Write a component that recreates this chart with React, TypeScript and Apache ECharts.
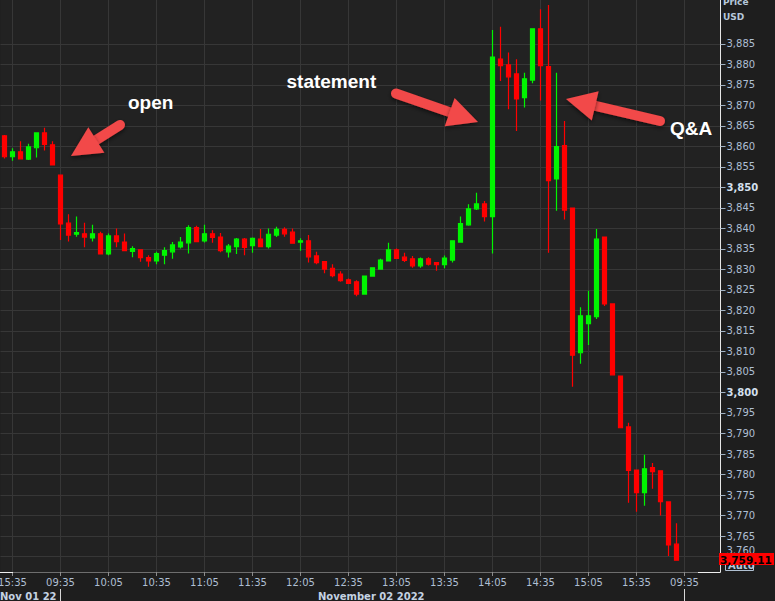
import React, { useEffect, useRef } from "react";
import * as echarts from "echarts";

// ---- Data (5-minute bars) ----
const opens = [
  3862.6, 3857.5, 3858.7, 3856.9, 3859.7, 3863.3, 3860.4, 3853.0, 3841.3, 3838.6,
  3838.7, 3837.7, 3838.7, 3833.8, 3838.2, 3836.7, 3834.4, 3834.8, 3832.9, 3832.1,
  3833.5, 3834.3, 3835.5, 3836.5, 3840.2, 3837.0, 3838.7, 3837.9, 3834.3, 3835.6,
  3837.4, 3835.8, 3837.4, 3835.6, 3838.4, 3839.8, 3839.1, 3836.7, 3837.0, 3833.3,
  3831.9, 3830.3, 3828.9, 3827.5, 3827.0, 3824.0, 3828.4, 3830.1, 3832.1, 3834.8,
  3833.0, 3832.6, 3830.9, 3832.6, 3831.7, 3831.2, 3832.3, 3836.7, 3840.9, 3844.8,
  3846.0, 3842.9, 3881.3, 3879.9, 3877.7, 3871.9, 3876.2, 3888.7, 3879.5, 3852.1,
  3860.2, 3845.0, 3809.7, 3816.8, 3818.5, 3837.9, 3821.6, 3804.0, 3791.6, 3781.1,
  3775.6, 3781.7, 3780.9, 3773.3, 3763.0,
];
const closes = [
  3857.5, 3858.7, 3857.0, 3859.9, 3863.3, 3860.5, 3855.5, 3841.1, 3838.4, 3839.0,
  3837.9, 3838.7, 3833.8, 3838.2, 3836.8, 3834.6, 3835.1, 3832.9, 3832.1, 3833.9,
  3834.6, 3836.0, 3836.7, 3840.2, 3836.8, 3838.7, 3837.8, 3834.6, 3835.7, 3837.4,
  3835.4, 3837.6, 3835.6, 3838.6, 3839.8, 3838.7, 3836.4, 3837.0, 3833.1, 3831.7,
  3830.1, 3828.5, 3827.3, 3826.6, 3824.0, 3828.4, 3830.4, 3832.3, 3834.8, 3832.7,
  3832.2, 3830.9, 3832.6, 3831.3, 3831.2, 3832.8, 3837.0, 3841.2, 3844.8, 3846.0,
  3842.9, 3881.8, 3879.7, 3877.0, 3871.6, 3876.5, 3888.7, 3879.7, 3851.7, 3860.0,
  3844.5, 3809.1, 3818.7, 3818.7, 3837.4, 3821.6, 3804.3, 3791.4, 3781.0, 3775.6,
  3781.4, 3780.7, 3773.4, 3762.8, 3759.11,
];
const lows = [
  3857.1, 3856.5, 3856.9, 3856.7, 3857.3, 3859.0, 3855.4, 3837.2, 3836.8, 3838.0,
  3835.4, 3836.8, 3833.7, 3833.5, 3835.4, 3834.5, 3833.0, 3831.9, 3830.7, 3831.3,
  3831.3, 3832.6, 3835.1, 3833.9, 3836.7, 3836.6, 3836.5, 3834.2, 3832.9, 3833.8,
  3833.5, 3834.1, 3835.5, 3835.1, 3837.9, 3838.0, 3836.3, 3834.6, 3831.7, 3831.3,
  3829.1, 3828.1, 3827.0, 3826.5, 3823.5, 3823.9, 3828.3, 3830.0, 3832.0, 3832.6,
  3831.8, 3830.4, 3830.4, 3831.0, 3829.7, 3830.3, 3831.7, 3836.6, 3840.7, 3844.5,
  3841.7, 3833.9, 3876.0, 3869.1, 3863.8, 3869.5, 3875.4, 3871.2, 3834.1, 3844.3,
  3842.2, 3801.4, 3807.0, 3811.6, 3817.9, 3821.1, 3804.2, 3791.3, 3773.1, 3770.9,
  3772.4, 3776.5, 3770.0, 3760.1, 3759.0,
];
const highs = [
  3862.8, 3859.6, 3861.3, 3860.7, 3863.4, 3864.6, 3861.3, 3853.1, 3843.5, 3842.9,
  3841.4, 3840.9, 3839.2, 3838.8, 3840.0, 3838.8, 3835.7, 3834.9, 3833.5, 3834.3,
  3835.4, 3836.7, 3837.9, 3840.8, 3840.7, 3840.9, 3839.6, 3838.9, 3836.2, 3837.7,
  3837.7, 3837.8, 3839.9, 3840.0, 3840.4, 3840.3, 3840.0, 3837.6, 3838.4, 3834.3,
  3832.0, 3831.3, 3829.6, 3827.8, 3827.4, 3828.5, 3830.5, 3832.6, 3836.5, 3835.1,
  3834.1, 3833.3, 3832.9, 3833.0, 3831.8, 3833.4, 3837.1, 3842.9, 3845.9, 3848.7,
  3846.7, 3888.4, 3889.2, 3882.9, 3881.3, 3878.0, 3888.8, 3893.5, 3894.5, 3878.0,
  3866.2, 3845.1, 3820.8, 3824.8, 3839.9, 3838.0, 3821.7, 3804.1, 3792.6, 3781.2,
  3784.8, 3782.8, 3781.0, 3773.4, 3768.1,
];

// bar timestamps: Nov 01 15:30-15:55, Nov 02 09:30-15:55, Nov 03 09:30-09:55
function barTimes(h: number, m: number, n: number): string[] {
  const out: string[] = [];
  for (let k = 0; k < n; k++) {
    const t = h * 60 + m + 5 * k;
    const hh = String(Math.floor(t / 60)).padStart(2, "0");
    const mm = String(t % 60).padStart(2, "0");
    out.push(`${hh}:${mm}`);
  }
  return out;
}
const categories = [...barTimes(15, 30, 6), ...barTimes(9, 30, 78), ...barTimes(9, 30, 6)];

const yTickValues = [
  3760, 3765, 3770, 3775, 3780, 3785, 3790, 3795, 3800, 3805, 3810, 3815, 3820,
  3825, 3830, 3835, 3840, 3845, 3850, 3855, 3860, 3865, 3870, 3875, 3880, 3885,
];
const lastPrice = "3,759.11";
const dateLabels = ["Nov 01 22", "November 02 2022"];
const notes = ["open", "statement", "Q&A"];

const LABEL = "#aebfd3";
const GRID = "#373737";
const ARROW = "#f24848";
const FONT = "DejaVu Sans";
const UP = "#00f500";
const DOWN = "#ff0000";

function arrow(tx: number, ty: number, hx: number, hy: number) {
  const dx = hx - tx;
  const dy = hy - ty;
  const len = Math.hypot(dx, dy);
  const ux = dx / len;
  const uy = dy / len;
  const headLen = 30;
  const half = 15;
  const bx = hx - ux * headLen;
  const by = hy - uy * headLen;
  const px = -uy;
  const py = ux;
  const shadow = { shadowBlur: 4, shadowColor: "rgba(0,0,0,0.55)", shadowOffsetY: 2 };
  return [
    {
      type: "line",
      z: 50,
      shape: { x1: tx, y1: ty, x2: bx + ux * 3, y2: by + uy * 3 },
      style: { stroke: ARROW, lineWidth: 10, lineCap: "round", ...shadow },
    },
    {
      type: "polygon",
      z: 51,
      shape: {
        points: [
          [hx, hy],
          [bx + px * half, by + py * half],
          [bx - px * half, by - py * half],
        ],
      },
      style: { fill: ARROW, ...shadow },
    },
  ];
}

const showIdx = (idx: number) => idx % 6 === 1;

export default function App() {
  const ref = useRef<HTMLDivElement>(null);
  useEffect(() => {
    document.body.style.margin = "0";
    document.body.style.background = "#1e1e1e";
    if (!ref.current) return;
    const chart = echarts.init(ref.current, undefined, { renderer: "svg" });
    const data = opens.map((o, i) => [o, closes[i], lows[i], highs[i]]);
    const fmtNum = (v: number) => v.toLocaleString("en-US");
    chart.setOption({
      animation: false,
      backgroundColor: "#1e1e1e",
      grid: {
        left: 0.5,
        right: 54.5,
        top: 0,
        bottom: 29,
        containLabel: false,
        outerBoundsMode: "none",
        show: true,
        backgroundColor: "#222222",
        borderWidth: 0,
      },
      xAxis: {
        type: "category",
        data: categories,
        boundaryGap: true,
        axisLine: { show: true, lineStyle: { color: "#6e6e6e", width: 1 } },
        axisTick: {
          show: true,
          alignWithLabel: true,
          interval: showIdx,
          length: 4,
          lineStyle: { color: "#8c8c8c" },
        },
        axisLabel: {
          interval: showIdx,
          margin: 5,
          color: LABEL,
          fontFamily: FONT,
          fontSize: 10,
        },
        splitLine: {
          show: true,
          interval: showIdx,
          alignWithLabel: true,
          lineStyle: { color: GRID, width: 1 },
        },
      },
      yAxis: {
        type: "value",
        position: "right",
        min: 3756.22,
        max: 3895.73,
        splitNumber: 28,
        axisLine: { show: true, lineStyle: { color: "#e6e6e6", width: 1 } },
        axisTick: {
          show: true,
          length: 5,
          customValues: yTickValues,
          lineStyle: { color: "#9fb0c2" },
        },
        axisLabel: {
          customValues: yTickValues,
          margin: 6,
          color: LABEL,
          fontFamily: FONT,
          fontSize: 10,
          formatter: (v: number) => {
            const s = fmtNum(v);
            if (v === 3760) return `{lo|${s}}`;
            if (v % 50 === 0) return `{b|${s}}`;
            return s;
          },
          rich: {
            b: { fontWeight: "bold", color: "#d4e0ee", fontFamily: FONT, fontSize: 10 },
            lo: { color: LABEL, fontFamily: FONT, fontSize: 10, padding: [0, 0, 12, 0] },
          },
        },
        splitLine: { show: true, lineStyle: { color: GRID, width: 1 } },
      },
      series: [
        {
          type: "candlestick",
          data,
          barWidth: 4,
          itemStyle: {
            color: UP,
            color0: DOWN,
            borderColor: UP,
            borderColor0: DOWN,
            borderWidth: 1.2,
            opacity: 1,
          },
        },
      ],
      graphic: [
        ...arrow(120, 125, 71, 156),
        ...arrow(396, 93.5, 478, 122),
        ...arrow(660, 121, 566, 99),
        {
          type: "text",
          z: 60,
          x: 128,
          y: 102.4,
          style: { text: notes[0], fill: "#ffffff", font: "bold 19px 'Liberation Sans'", verticalAlign: "middle" },
        },
        {
          type: "text",
          z: 60,
          x: 286.5,
          y: 81.4,
          style: { text: notes[1], fill: "#ffffff", font: "bold 19px 'Liberation Sans'", verticalAlign: "middle" },
        },
        {
          type: "text",
          z: 60,
          x: 670,
          y: 128.4,
          style: { text: notes[2], fill: "#ffffff", font: "bold 19px 'Liberation Sans'", verticalAlign: "middle" },
        },
        // Price / USD header
        {
          type: "text",
          z: 60,
          x: 723,
          y: 1.5,
          style: { text: "Price", fill: "#b6c7da", font: `bold 9px '${FONT}'`, verticalAlign: "middle" },
        },
        {
          type: "text",
          z: 60,
          x: 723,
          y: 16.5,
          style: { text: "USD", fill: "#b6c7da", font: `bold 9px '${FONT}'`, verticalAlign: "middle" },
        },
        // date row
        {
          type: "text",
          z: 60,
          x: 0,
          y: 596,
          style: { text: dateLabels[0], fill: "#c4d2e2", font: `bold 10px '${FONT}'`, verticalAlign: "middle" },
        },
        {
          type: "text",
          z: 60,
          x: 318,
          y: 596,
          style: { text: dateLabels[1], fill: "#c4d2e2", font: `bold 10px '${FONT}'`, verticalAlign: "middle" },
        },
        { type: "line", z: 60, shape: { x1: 60.5, y1: 589, x2: 60.5, y2: 601 }, style: { stroke: "#d8d8d8", lineWidth: 1 } },
        { type: "line", z: 60, shape: { x1: 684.5, y1: 589, x2: 684.5, y2: 601 }, style: { stroke: "#d8d8d8", lineWidth: 1 } },
        // white corner stubs on the axis
        { type: "line", z: 60, shape: { x1: 0, y1: 572.5, x2: 13, y2: 572.5 }, style: { stroke: "#eeeeee", lineWidth: 1 } },
        { type: "line", z: 60, shape: { x1: 698, y1: 572.5, x2: 720.5, y2: 572.5 }, style: { stroke: "#eeeeee", lineWidth: 1 } },
        // Auto box (mostly hidden)
        { type: "rect", z: 90, shape: { x: 725.5, y: 559.5, width: 28, height: 11 }, style: { fill: "#1e1e1e", stroke: "#b0c0d2", lineWidth: 1 } },
        {
          type: "text",
          z: 91,
          x: 728,
          y: 565,
          style: { text: "Auto", fill: "#b6c7da", font: `bold 10px '${FONT}'`, verticalAlign: "middle" },
        },
        // last price tag
        { type: "rect", z: 100, shape: { x: 719, y: 553, width: 55, height: 12 }, style: { fill: "#ff0000" } },
        {
          type: "text",
          z: 101,
          x: 720,
          y: 559.5,
          style: { text: lastPrice, fill: "#000000", font: `bold 10.5px '${FONT}'`, verticalAlign: "middle" },
        },
      ],
    });
    return () => chart.dispose();
  }, []);
  return <div ref={ref} style={{ width: 775, height: 601 }} />;
}
